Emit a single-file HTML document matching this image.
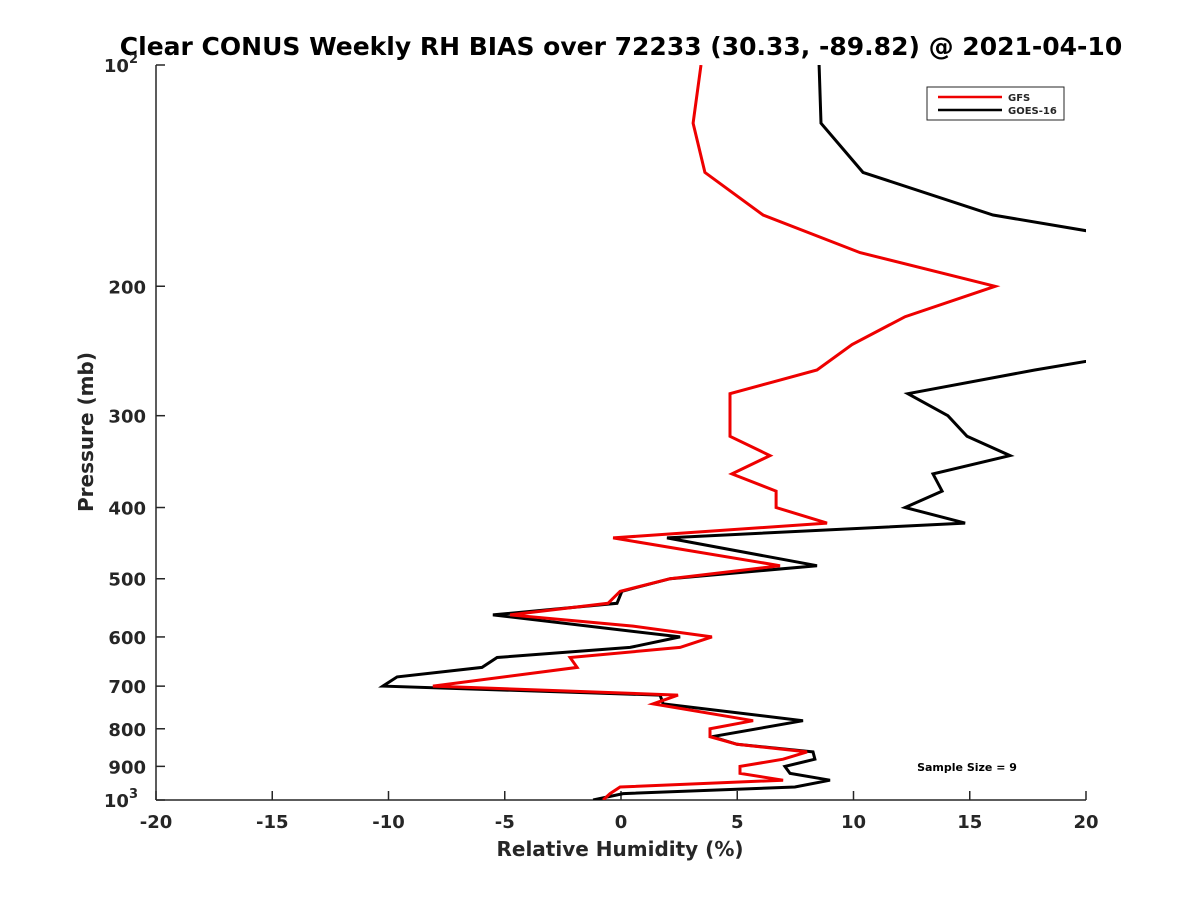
<!DOCTYPE html>
<html><head><meta charset="utf-8"><style>
body{margin:0;background:#fff}
svg text{font-family:"DejaVu Sans","Liberation Sans",sans-serif;font-weight:bold;fill:#262626}
</style></head><body>
<svg width="1200" height="900" viewBox="0 0 1200 900">
<rect width="1200" height="900" fill="#fff"/>
<defs><clipPath id="pc"><rect x="156" y="65" width="930" height="735"/></clipPath></defs>
<text x="621" y="55" text-anchor="middle" font-size="25" style="fill:#000">Clear CONUS Weekly RH BIAS over 72233 (30.33, -89.82) @ 2021-04-10</text>
<g id="axes"></g>
<g id="series" clip-path="url(#pc)"></g>
<text x="620" y="856" text-anchor="middle" font-size="20">Relative Humidity (%)</text>
<text transform="translate(93,432) rotate(-90)" text-anchor="middle" font-size="20">Pressure (mb)</text>
<g>
<rect x="927" y="87" width="137" height="33" fill="#fff" stroke="#262626" stroke-width="1"/>
<line x1="938" y1="97" x2="1002" y2="97" stroke="#e00" stroke-width="2.5"/>
<text x="1008" y="101" font-size="10">GFS</text>
<line x1="938" y1="110" x2="1002" y2="110" stroke="#000" stroke-width="2.5"/>
<text x="1008" y="114" font-size="10">GOES-16</text>
</g>
<text x="967" y="771" text-anchor="middle" font-size="11" style="fill:#000">Sample Size = 9</text>
</svg>
<script>
const xTicks=[-20,-15,-10,-5,0,5,10,15,20];
const yTicks=[100,200,300,400,500,600,700,800,900,1000];
const gfsP=[100,120,140,160,180,200,220,240,260,280,320,340,360,380,400,420,440,480,500,520,540,560,580,600,620,640,660,700,720,740,780,800,820,840,860,880,900,920,940,960,980,1000];
const gfsV=[3.44,3.10,3.61,6.11,10.28,16.09,12.22,9.94,8.43,4.69,4.69,6.41,4.77,6.67,6.67,8.86,-0.34,6.84,2.11,-0.04,-0.56,-4.77,0.52,3.91,2.54,-2.19,-1.89,-8.09,2.45,1.38,5.68,3.83,3.83,4.99,8.0,6.97,5.12,5.12,6.97,-0.04,-0.47,-0.77];
const goesP=[100,120,140,160,180,200,220,240,260,280,300,320,340,360,380,400,420,440,480,500,520,540,560,600,620,640,660,680,700,720,740,780,820,840,860,880,900,920,940,960,980,1000];
const goesV=[8.52,8.60,10.41,16.0,25.6,28,27,24.3,17.8,12.34,14.06,14.88,16.73,13.42,13.81,12.22,14.80,1.98,8.43,2.11,0.04,-0.17,-5.51,2.54,0.39,-5.33,-5.98,-9.63,-10.24,1.68,1.81,7.83,3.91,4.99,8.26,8.34,7.05,7.27,8.99,7.48,0.09,-1.20];
const NS='http://www.w3.org/2000/svg';
const X0=156,X1=1086,Y0=65,Y1=800;
function xs(v){return X0+(v+20)/40*(X1-X0);}
function ys(p){return Y0+Math.log10(p/100)*(Y1-Y0);}
function mk(tag,attrs,parent){const e=document.createElementNS(NS,tag);for(const k in attrs)e.setAttribute(k,attrs[k]);parent.appendChild(e);return e;}
const ax=document.getElementById('axes');
let l=mk('line',{x1:X0,y1:Y0,x2:X0,y2:Y1,stroke:'#262626','stroke-width':1.5},ax);


l=mk('line',{x1:X0,y1:Y1,x2:X1,y2:Y1,stroke:'#262626','stroke-width':1.5},ax);


xTicks.forEach(v=>{
  const x=xs(v);
  const t=mk('line',{x1:x,y1:Y1,x2:x,y2:Y1-9,stroke:'#262626','stroke-width':1.5},ax);
  
  
  const tx=mk('text',{x:x,y:828,'text-anchor':'middle','font-size':18},ax);
  tx.textContent=String(v);
  
  
});
yTicks.forEach(p=>{
  const y=ys(p);
  const t=mk('line',{x1:X0,y1:y,x2:X0+9,y2:y,stroke:'#262626','stroke-width':1.5},ax);
  
  
  const tx=mk('text',{x:146,y:y+7,'text-anchor':'end','font-size':18},ax);
  if(p===100||p===1000){
    tx.setAttribute('x',138);
    tx.textContent='10';
    const s=mk('tspan',{dy:-9,'font-size':13},tx);
    s.textContent=p===100?'2':'3';
  } else tx.textContent=String(p);
  
  
});
const sg=document.getElementById('series');
function line(P,V,color,name){
  const pts=P.map((p,i)=>xs(V[i]).toFixed(1)+','+ys(p).toFixed(1)).join(' ');
  const pl=mk('polyline',{points:pts,fill:'none',stroke:color,'stroke-width':3,'stroke-linejoin':'miter'},sg);
  
  
}
line(goesP,goesV,'#000','goes16-line');
line(gfsP,gfsV,'#e00','gfs-line');
</script>
</body></html>
